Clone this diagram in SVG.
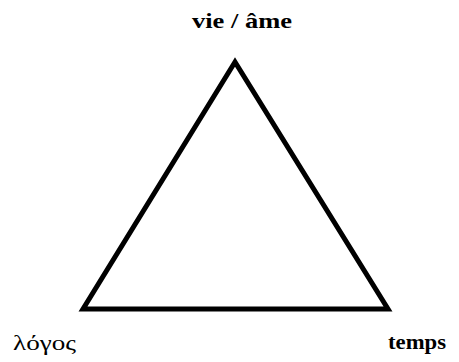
<svg xmlns="http://www.w3.org/2000/svg" width="459" height="362" viewBox="0 0 459 362">
<style>
.lbl{font-family:"Liberation Serif","DejaVu Serif",serif;font-size:21px;fill:#000}
.b{font-weight:bold}
</style>
<rect width="459" height="362" fill="#fff"/>
<g id="connectors">
<polygon points="235,62 83,309 388,309" fill="none" stroke="#000" stroke-width="5" stroke-linejoin="miter" stroke-miterlimit="10"/>
</g>
<g id="node-top"><text class="lbl b" x="192" y="28" textLength="100" lengthAdjust="spacingAndGlyphs">vie / âme</text></g>
<g id="node-left"><text class="lbl" x="13" y="350" textLength="63" lengthAdjust="spacingAndGlyphs">λόγος</text></g>
<g id="node-right"><text class="lbl b" x="388" y="349" textLength="58" lengthAdjust="spacingAndGlyphs">temps</text></g>
</svg>
